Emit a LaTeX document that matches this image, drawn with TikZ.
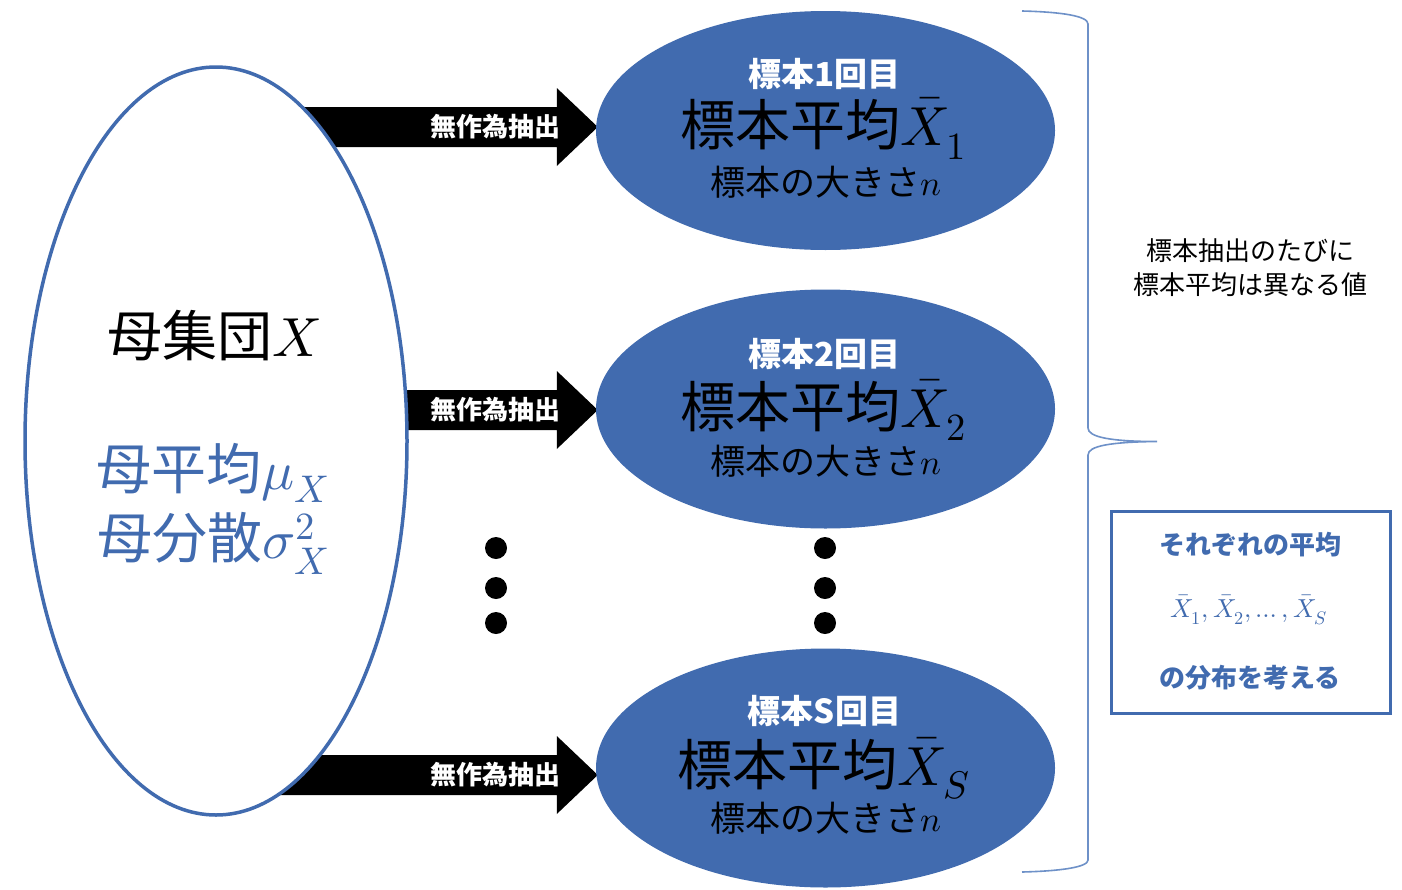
\documentclass[tikz,border=0pt]{standalone}
\usepackage{fontspec}
\usepackage{unicode-math}
\setmainfont{Noto Sans CJK JP}
\setmathfont{latinmodern-math.otf}
\usetikzlibrary{shapes.geometric,calc}
\pgfdeclarelayer{bgwhite}
\pgfdeclarelayer{background}
\pgfsetlayers{bgwhite,background,main}
\definecolor{blueC}{RGB}{65,107,175}
\definecolor{braceC}{RGB}{110,145,200}
\newcommand\blockarrow[1]{%
  \fill[black] (#1) -- ++(-41,-39) -- ++(0,19)
    -- ($(#1 -| pop.center)+(0,-20)$) -- ($(#1 -| pop.center)+(0,20)$)
    -- ($(#1)+(-41,20)$) -- ($(#1)+(-41,39)$) -- cycle;}
\begin{document}
\begin{tikzpicture}[x=1pt,y=-1pt,
  samp/.style={ellipse, fill=blueC, inner sep=0, minimum width=459, minimum height=239},
  pop/.style={ellipse, draw=blueC, line width=3.5, fill=white, inner sep=0, minimum width=382, minimum height=748},
  dotn/.style={circle, fill=black, inner sep=0, minimum size=22},
  arrlab/.style={text=white, font=\bfseries\fontsize{26}{30}\selectfont, anchor=east, inner sep=0},
  hd/.style={text=white, font=\bfseries\fontsize{33}{36}\selectfont, anchor=base, inner sep=0},
  meantxt/.style={font=\fontsize{55}{60}\selectfont, anchor=base, inner sep=0},
  sizetxt/.style={font=\fontsize{35}{38}\selectfont, anchor=base, inner sep=0},
  poptxt/.style={font=\fontsize{55}{60}\selectfont, anchor=base, inner sep=0},
  boxtxt/.style={text=blueC, font=\bfseries\fontsize{26}{30}\selectfont, inner sep=0},
]
\useasboundingbox (0,0) rectangle (1402,889);
\begin{pgfonlayer}{bgwhite}
\fill[white] (0,0) rectangle (1402,889);
\end{pgfonlayer}

% population
\node[pop] (pop) at (216,441) {};
\node[poptxt] (popname) at (214,356) {母集団$X$};
\node[poptxt, text=blueC] (popmean) at (213,489) {母平均$\mu_X$};
\node[poptxt, text=blueC] (popvar) at (213,558) {母分散$\sigma_X^{\lower7pt\hbox{$\scriptstyle 2$}}$};

% samples
\node[samp] (e1) at (825.5,130.5) {};
\node[samp] (e2) at (825.5,409) {};
\node[samp] (e3) at (825.5,768) {};

\node[hd] (h1) at ($(e1.center)+(-1,-44.5)$) {標本1回目};
\node[meantxt] (m1) at ($(e1.center)+(-2,15)$) {標本平均$\bar{X}_1$};
\node[sizetxt] (s1) at ($(e1.center)+(0,64.5)$) {標本の大きさ$n$};

\node[hd] (h2) at ($(e2.center)+(-1,-43)$) {標本2回目};
\node[meantxt] (m2) at ($(e2.center)+(-2,18)$) {標本平均$\bar{X}_2$};
\node[sizetxt] (s2) at ($(e2.center)+(0,65)$) {標本の大きさ$n$};

\node[hd] (h3) at ($(e3.center)+(-1,-45)$) {標本S回目};
\node[meantxt] (m3) at ($(e3.center)+(-2,17)$) {標本平均$\bar{X}_S$};
\node[sizetxt] (s3) at ($(e3.center)+(0,63)$) {標本の大きさ$n$};

% arrows
\coordinate (t1) at ($(e1.west)+(2,-3.5)$);
\coordinate (t2) at ($(e2.west)+(2,1)$);
\coordinate (t3) at ($(e3.west)+(2,7)$);
\begin{pgfonlayer}{background}
\blockarrow{t1}
\blockarrow{t2}
\blockarrow{t3}
\end{pgfonlayer}
\node[arrlab] (a1) at ($(t1)+(-37,0)$) {無作為抽出};
\node[arrlab] (a2) at ($(t2)+(-37,0)$) {無作為抽出};
\node[arrlab] (a3) at ($(t3)+(-37,0)$) {無作為抽出};

% dots
\foreach \i/\y in {1/548,2/588,3/623}{
  \node[dotn] (dl\i) at (496,\y) {};
  \node[dotn] (dr\i) at (825,\y) {};
}

% brace
\draw[braceC, line width=1.6]
  (1022,11) .. controls (1062,12) and (1088,16) .. (1088,24)
  -- (1088,428) .. controls (1088,437) and (1110,441.5) .. (1157,441.5)
  .. controls (1110,442) and (1088,446) .. (1088,455)
  -- (1088,860) .. controls (1088,867) and (1062,871) .. (1022,872);

\node[font=\fontsize{26}{34}\selectfont, align=center] (note) at (1250,268) {標本抽出のたびに\\標本平均は異なる値};

% box
\node[draw=blueC, line width=3, minimum width=279, minimum height=202, inner sep=0] (box) at (1250.5,612) {};
\node[boxtxt] (b1) at (1250,545) {それぞれの平均};
\node[boxtxt, font=\fontsize{26}{30}\selectfont] (b2) at (1249,610) {$\bar{X}_1,\bar{X}_2,\ldots,\bar{X}_S$};
\node[boxtxt] (b3) at (1250,678) {の分布を考える};
\end{tikzpicture}
\end{document}
